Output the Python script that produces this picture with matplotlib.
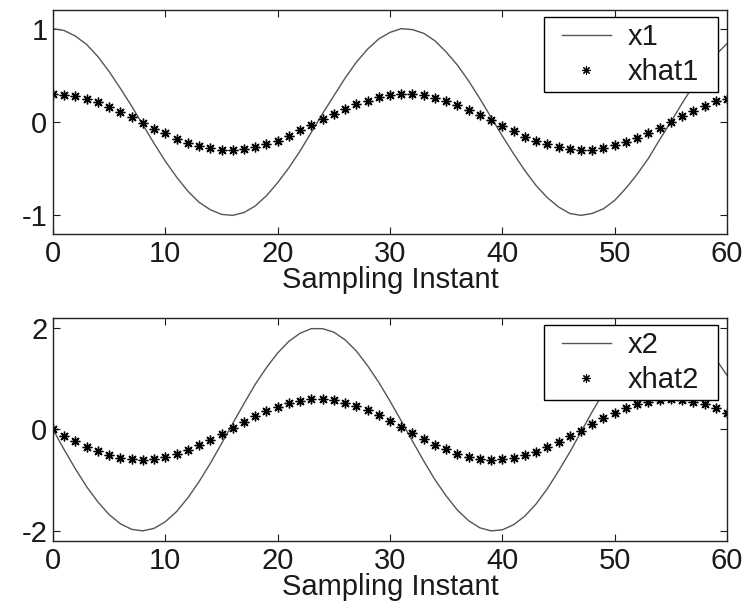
import matplotlib
matplotlib.use("Agg")
import matplotlib.pyplot as plt
from matplotlib.legend_handler import HandlerLine2D

# Sampling instants
instants = list(range(61))

x1 = [1.00, 0.98, 0.92, 0.83, 0.70, 0.54, 0.36, 0.17, -0.03, -0.23,
      -0.42, -0.59, -0.74, -0.86, -0.94, -0.99, -1.00, -0.97, -0.90, -0.79,
      -0.65, -0.49, -0.31, -0.11, 0.09, 0.28, 0.47, 0.64, 0.78, 0.89,
      0.96, 1.00, 0.99, 0.95, 0.87, 0.75, 0.61, 0.44, 0.25, 0.05,
      -0.15, -0.34, -0.52, -0.68, -0.81, -0.91, -0.98, -1.00, -0.98, -0.93,
      -0.84, -0.71, -0.56, -0.39, -0.19, 0.00, 0.20, 0.39, 0.57, 0.72,
      0.84]

xhat1 = [0.30, 0.29, 0.28, 0.25, 0.21, 0.16, 0.11, 0.05, -0.01, -0.07,
         -0.12, -0.18, -0.22, -0.26, -0.28, -0.30, -0.30, -0.29, -0.27, -0.24,
         -0.20, -0.15, -0.09, -0.03, 0.03, 0.09, 0.14, 0.19, 0.23, 0.27,
         0.29, 0.30, 0.30, 0.29, 0.26, 0.23, 0.18, 0.13, 0.08, 0.02,
         -0.04, -0.10, -0.16, -0.20, -0.24, -0.27, -0.29, -0.30, -0.30, -0.28,
         -0.25, -0.21, -0.17, -0.12, -0.06, 0.00, 0.06, 0.12, 0.17, 0.22,
         0.25]

x2 = [0.00, -0.40, -0.78, -1.13, -1.43, -1.68, -1.86, -1.97, -2.00, -1.95,
      -1.82, -1.62, -1.35, -1.03, -0.67, -0.28, 0.12, 0.51, 0.89, 1.22,
      1.51, 1.74, 1.90, 1.99, 1.99, 1.92, 1.77, 1.55, 1.26, 0.93,
      0.56, 0.17, -0.23, -0.62, -0.99, -1.31, -1.59, -1.80, -1.94, -2.00,
      -1.98, -1.88, -1.71, -1.47, -1.17, -0.82, -0.45, -0.05, 0.35, 0.73,
      1.09, 1.40, 1.66, 1.84, 1.96, 2.00, 1.96, 1.84, 1.65, 1.39,
      1.07]

xhat2 = [0.00, -0.12, -0.23, -0.34, -0.43, -0.50, -0.56, -0.59, -0.60, -0.58,
         -0.55, -0.48, -0.41, -0.31, -0.20, -0.08, 0.03, 0.15, 0.27, 0.37,
         0.45, 0.52, 0.57, 0.60, 0.60, 0.58, 0.53, 0.46, 0.38, 0.28,
         0.17, 0.05, -0.07, -0.19, -0.30, -0.39, -0.48, -0.54, -0.58, -0.60,
         -0.59, -0.56, -0.51, -0.44, -0.35, -0.25, -0.13, -0.02, 0.10, 0.22,
         0.33, 0.42, 0.50, 0.55, 0.59, 0.60, 0.59, 0.55, 0.50, 0.42,
         0.32]

xticks = [0, 10, 20, 30, 40, 50, 60]
yticks_top = [-1, 0, 1]
yticks_bot = [-2, 0, 2]
xlabel = "Sampling Instant"

plt.rcParams['font.family'] = ['Liberation Sans', 'DejaVu Sans']
plt.rcParams['axes.unicode_minus'] = False

fig = plt.figure(figsize=(7.46, 6.14), dpi=100)
W, H = 746, 614

def add_ax(left, top, right, bottom):
    return fig.add_axes([left / W, 1 - bottom / H, (right - left) / W, (bottom - top) / H])

ax1 = add_ax(53, 10, 727, 234)
ax2 = add_ax(53, 318, 727, 541)

txt = '#1a1a1a'
asterisk = (8, 2, 0)
panels = [
    (ax1, x1, xhat1, 'x1', 'xhat1', (-1.2, 1.2), yticks_top),
    (ax2, x2, xhat2, 'x2', 'xhat2', (-2.2, 2.2), yticks_bot),
]
for ax, xs, xh, l1, l2, ylim, yt in panels:
    line, = ax.plot(instants, xs, color='#555555', lw=1.0, label=l1)
    pts, = ax.plot(instants, xh, ls='none', marker=asterisk, ms=7, color='black',
                   markeredgewidth=1.0, label=l2)
    ax.set_xlim(0, 60)
    ax.set_ylim(*ylim)
    ax.set_xticks(xticks)
    ax.set_yticks(yt)
    ax.tick_params(direction='in', top=True, right=True, length=5,
                   labelsize=21, colors=txt, pad=4, width=0.8)
    for s in ax.spines.values():
        s.set_linewidth(1.0)
        s.set_color('#222222')
    ax.set_xlabel(xlabel, fontsize=21, color=txt, labelpad=-1)

    # legend box: figure px 544..718 horizontally, 7 px below axes top
    x0 = (544 - 53) / 674
    wid = 174 / 674
    top = 1 - 7 / 224
    leg = ax.legend(handles=[line, pts], loc='upper left',
                    bbox_to_anchor=(x0, top - 0.4, wid, 0.4), mode='expand',
                    fontsize=21, handlelength=2.51, handletextpad=0.16,
                    borderpad=0.2, borderaxespad=0.0, labelspacing=0.25,
                    fancybox=False, framealpha=1, edgecolor='black',
                    handler_map={line: HandlerLine2D(numpoints=2, marker_pad=0.42),
                                 pts: HandlerLine2D(numpoints=1)})
    leg.get_frame().set_linewidth(1.0)
    leg.legend_handles[1].set_markersize(6)
    leg.legend_handles[1].set_markeredgewidth(0.8)
    for t in leg.get_texts():
        t.set_color(txt)

fig.savefig('out.png', dpi=100)
